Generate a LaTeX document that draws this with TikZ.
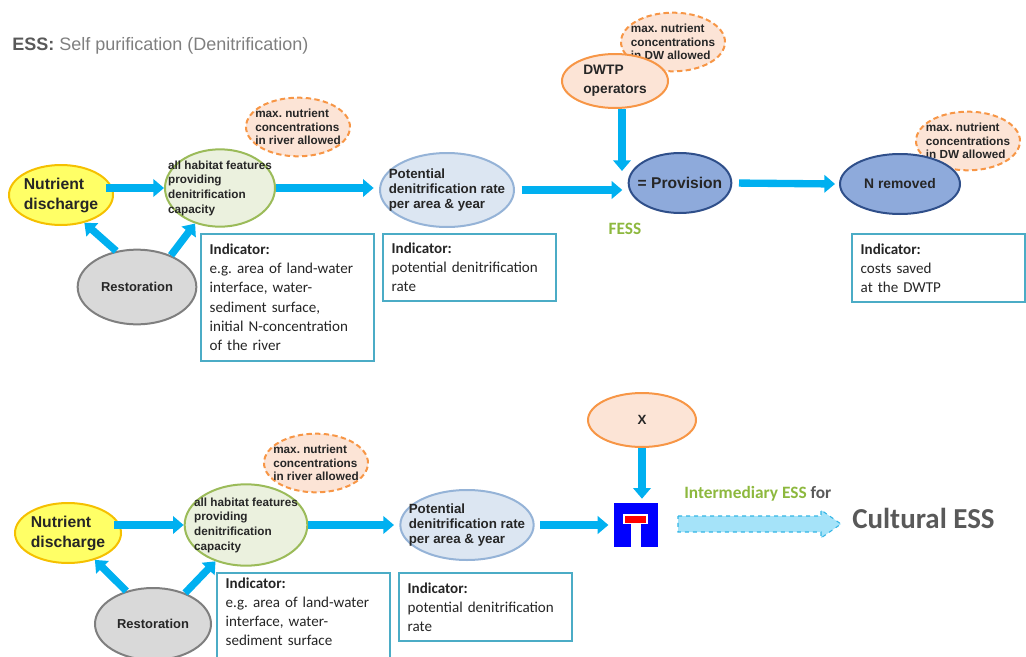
\documentclass[tikz,border=0pt]{standalone}
\usepackage{fontspec}
\setmainfont{Liberation Sans}
\newfontfamily\boxfont{Carlito}
\usepackage{xcolor}
\usetikzlibrary{positioning, shapes, arrows.meta, calc}
\frenchspacing

\definecolor{flowblue}{HTML}{00B0F0}
\definecolor{boxteal}{HTML}{4BACC6}
\definecolor{nutfill}{HTML}{FFFF66}
\definecolor{nutdraw}{HTML}{F5C000}
\definecolor{habfill}{HTML}{EBF1DE}
\definecolor{habdraw}{HTML}{9BBB59}
\definecolor{restfill}{HTML}{D9D9D9}
\definecolor{restdraw}{HTML}{7F7F7F}
\definecolor{potfill}{HTML}{DCE6F2}
\definecolor{potdraw}{HTML}{95B3D7}
\definecolor{limitfill}{HTML}{FCE4D6}
\definecolor{limitorange}{HTML}{F79646}
\definecolor{provfill}{HTML}{8EAADB}
\definecolor{provdraw}{HTML}{2F4F8A}
\definecolor{fessgreen}{HTML}{8DB83E}
\definecolor{titlegray}{HTML}{7F7F7F}
\definecolor{essgray}{HTML}{595959}
\definecolor{textdark}{HTML}{262626}
\definecolor{gateblue}{HTML}{0000FF}
\definecolor{gatered}{HTML}{FF0000}
\definecolor{hollowfill}{HTML}{A5E3F9}
\definecolor{hollowdraw}{HTML}{33B5E5}

\begin{document}
\begin{tikzpicture}[x=0.75pt, y=-0.75pt,
    blob/.style={ellipse, line width=1.5pt, inner sep=-30pt, align=left, text=textdark,
      font=\bfseries\fontsize{10}{11.25}\selectfont},
    limit/.style={blob, draw=limitorange, fill=limitfill, dash pattern=on 4pt off 2.5pt,
      minimum width=78pt, minimum height=44pt, font=\bfseries\fontsize{8.8}{10}\selectfont},
    indbox/.style={draw=boxteal, line width=1.5pt, fill=white, anchor=north west, align=left,
      text width=117pt, inner xsep=6.5pt, text=textdark, font=\boxfont\fontsize{11.3}{14.4}\selectfont},
    flow/.style={draw=flowblue, line width=5.5pt, -{Triangle[width=13pt,length=8pt]}}]

    \clip (0,0) rectangle (1026,657);

    % title
    \node[anchor=base west, text=titlegray, font=\fontsize{13.5}{16}\selectfont, inner sep=0pt] (title) at (12,50)
      {\textcolor{essgray}{\textbf{ESS:}} Self purification (Denitrification)};

    % upper chain
    \node[limit] (riverlimit) at (298,127)
      {max. nutrient\\concentrations\\in river allowed};
    \node[blob, draw=nutdraw, fill=nutfill, minimum width=78pt, minimum height=45pt,
      font=\bfseries\fontsize{11.8}{15}\selectfont] (nutrient) at (61,195) {Nutrient\\discharge};
    \node[blob, draw=habdraw, fill=habfill, minimum width=82.5pt, minimum height=58pt,
      font=\bfseries\fontsize{8.8}{11}\selectfont] (habitat) at (220,188)
      {all habitat features\\providing\\denitrification\\capacity};
    \node[blob, draw=restdraw, fill=restfill, minimum width=89pt, minimum height=56pt,
      font=\bfseries\fontsize{9.7}{11}\selectfont] (restoration) at (137,287) {Restoration};
    \node[indbox, minimum height=95pt] (indhab) at (200,233)
      {\textbf{Indicator:}\\e.g. area of land-water\\interface, water-\\sediment surface,\\initial N-concentration\\of the river};
    \node[blob, draw=potdraw, fill=potfill, minimum width=100.5pt, minimum height=55.5pt] (potential) at (447,190)
      {Potential\\denitrification rate\\per area \& year};
    \node[indbox, minimum height=50pt] (indpot) at (382,233)
      {\textbf{Indicator:}\\potential denitrification\\rate};

    \node[limit] (dwlimit) at (673,42) {max. nutrient\\concentrations\\in DW allowed};
    \node[blob, draw=limitorange, fill=limitfill, minimum width=79.5pt, minimum height=40.5pt,
      font=\bfseries\fontsize{10.3}{14}\selectfont] (dwtp) at (615,81) {DWTP\\operators};
    \node[blob, draw=provdraw, fill=provfill, minimum width=77pt, minimum height=45pt,
      font=\bfseries\fontsize{11.7}{13}\selectfont] (provision) at (680,183) {= Provision};
    \node[text=fessgreen, font=\boxfont\bfseries\fontsize{13}{15}\selectfont] (fess) at (625,229) {FESS};
    \coordinate (provin) at (622,171);

    \node[limit] (dwlimitb) at (968,141) {max. nutrient\\concentrations\\in DW allowed};
    \node[blob, draw=provdraw, fill=provfill, minimum width=90pt, minimum height=45pt,
      font=\bfseries\fontsize{10.4}{12}\selectfont] (nremoved) at (900,184) {N removed};
    \node[indbox, minimum height=51pt] (indcost) at (851,233)
      {\textbf{Indicator:}\\costs saved\\at the DWTP};

    \draw[flow, shorten <=-6pt] (nutrient.east |- habitat) -- (habitat.west);
    \draw[flow] (habitat.east) -- ([xshift=-4pt]potential.west |- habitat);
    \draw[flow, shorten <=5pt, shorten >=4pt] (potential.east) -- (provision.west |- potential.east);
    \draw[flow, shorten <=5pt, shorten >=3pt] (provision.east) -- (nremoved.west);
    \draw[flow] (dwtp.south -| provin) -- (provin);
    \draw[flow] (restoration.120) -- (nutrient.-50);
    \draw[flow] (restoration.43) -- (habitat.-125);

    % lower chain
    \node[limit] (riverlimitB) at (316,463) {max. nutrient\\concentrations\\in river allowed};
    \node[blob, draw=nutdraw, fill=nutfill, minimum width=79.5pt, minimum height=45pt,
      font=\bfseries\fontsize{11.8}{15}\selectfont] (nutrientB) at (68,533) {Nutrient\\discharge};
    \node[blob, draw=habdraw, fill=habfill, minimum width=92pt, minimum height=61pt,
      font=\bfseries\fontsize{8.8}{11}\selectfont] (habitatB) at (246,525)
      {all habitat features\\providing\\denitrification\\capacity};
    \node[blob, draw=restdraw, fill=restfill, minimum width=87pt, minimum height=54pt,
      font=\bfseries\fontsize{9.7}{11}\selectfont] (restorationB) at (153,624) {Restoration};
    \node[indbox] (indhabB) at (216,572)
      {\textbf{Indicator:}\\e.g. area of land-water\\interface, water-\\sediment surface\\\strut};
    \node[blob, draw=potdraw, fill=potfill, minimum width=100pt, minimum height=52.5pt] (potentialB) at (467,525)
      {Potential\\denitrification rate\\per area \& year};
    \node[indbox, minimum height=51pt] (indpotB) at (398,572)
      {\textbf{Indicator:}\\potential denitrification\\rate};

    \node[blob, draw=limitorange, fill=limitfill, minimum width=81pt, minimum height=40.5pt] (xnode) at (642,420) {X};
    \node[fill=gateblue, minimum size=33pt, inner sep=0pt] (gate) at (636,525) {};
    \fill[white] (631,522) rectangle (641,547);
    \fill[white] (623,514) rectangle (648,524);
    \fill[gatered] (625,516) rectangle (646,522.5);

    \draw[flow, shorten <=-6pt] (nutrientB.east |- habitatB) -- (habitatB.west);
    \draw[flow, shorten >=4pt] (habitatB.east) -- (potentialB.west);
    \draw[flow, shorten <=4pt, shorten >=4pt] (potentialB.east) -- (gate.west);
    \draw[flow, shorten >=3pt] (xnode.south) -- (xnode.south |- gate.north);
    \draw[flow] (restorationB.129) -- (nutrientB.-45);
    \draw[flow] (restorationB.44) -- (habitatB.-130);

    \node[anchor=base west, inner sep=0pt, font=\boxfont\bfseries\fontsize{13}{15}\selectfont] (interm) at (684,498)
      {\textcolor{fessgreen}{Intermediary ESS} \textcolor{essgray}{for}};
    \node[anchor=base west, inner sep=0pt, text=essgray, font=\boxfont\bfseries\fontsize{21.7}{26}\selectfont] (cultural) at (852,528) {Cultural ESS};
    \coordinate (hollow) at (678,524);
    \draw[draw=hollowdraw, fill=hollowfill, dashed, line width=0.8pt]
      (hollow) ++(0,-8) -- ++(143,0) -- ++(0,-6) -- ++(20,14) -- ++(-20,14) -- ++(0,-6) -- ++(-143,0) -- cycle;
\end{tikzpicture}
\end{document}
